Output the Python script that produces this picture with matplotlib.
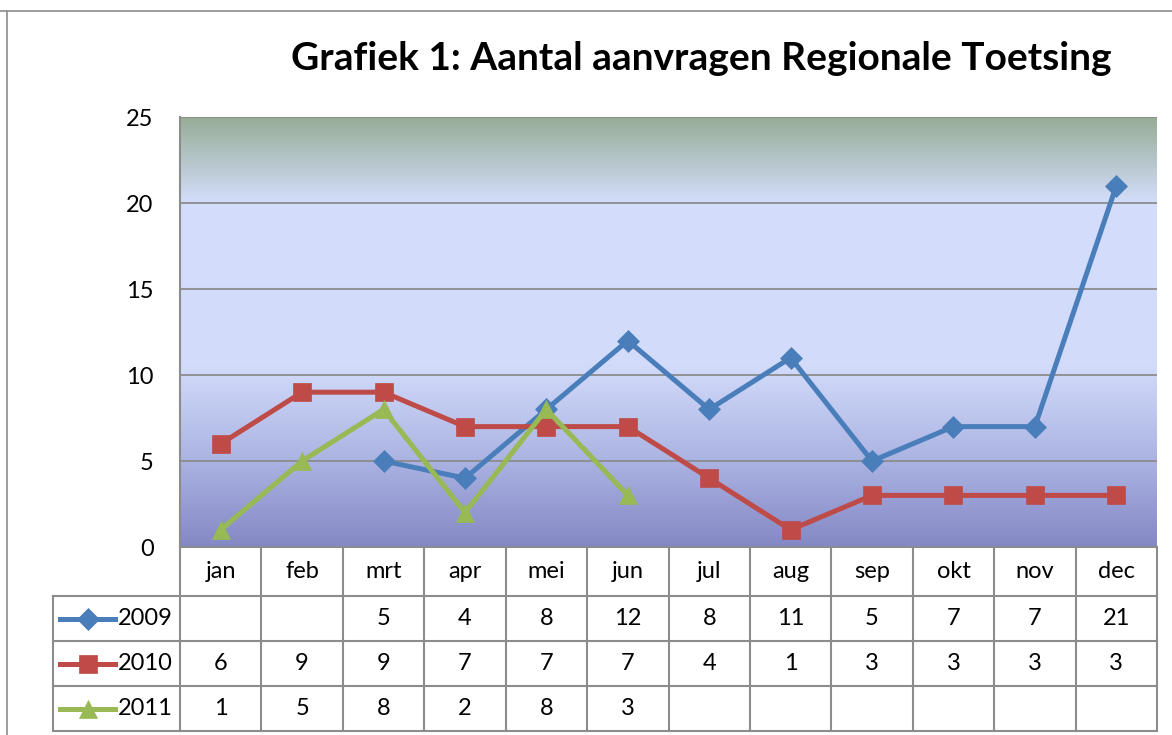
import numpy as np
import matplotlib
matplotlib.use("Agg")
import matplotlib.pyplot as plt
from matplotlib.colors import LinearSegmentedColormap
from matplotlib.lines import Line2D

plt.rcParams['font.family'] = ['Lato', 'DejaVu Sans']

months = ['jan', 'feb', 'mrt', 'apr', 'mei', 'jun', 'jul', 'aug', 'sep', 'okt', 'nov', 'dec']
years = ['2009', '2010', '2011']
v2009 = [None, None, 5, 4, 8, 12, 8, 11, 5, 7, 7, 21]
v2010 = [6, 9, 9, 7, 7, 7, 4, 1, 3, 3, 3, 3]
v2011 = [1, 5, 8, 2, 8, 3, None, None, None, None, None, None]

series = [v2009, v2010, v2011]
colors = ['#4A7EBB', '#BE4B48', '#98B954']
markers = ['D', 's', '^']
msizes = [11, 13, 13]

W, H = 1172, 735
fig = plt.figure(figsize=(W / 100, H / 100), dpi=100)

# pixel helpers for layout
def fx(px):
    return px / W

def fy(py):
    return 1 - py / H

left, right, top, bottom = 180, 1157, 117, 547
ax = fig.add_axes([fx(left), fy(bottom), fx(right) - fx(left), fy(top) - fy(bottom)])

# gradient background
cmap = LinearSegmentedColormap.from_list('bg', [
    (0.0, '#8488C5'),
    (0.2, '#ABB3E2'),
    (0.42, '#D2DBFA'),
    (0.8, '#D4DEFC'),
    (1.0, '#97AD97'),
])
grad = np.linspace(0, 1, 256).reshape(-1, 1)
ax.imshow(grad, cmap=cmap, origin='lower', aspect='auto',
          extent=(-0.5, 11.5, 0, 25), zorder=0)

x = np.arange(len(months))
for vals, c, m, ms in zip(series, colors, markers, msizes):
    y = np.array([np.nan if v is None else v for v in vals], dtype=float)
    ax.plot(x, y, color=c, lw=3.6, marker=m, markersize=ms, zorder=3,
            markeredgecolor=c, markeredgewidth=0.5)

ax.set_xlim(-0.5, 11.5)
ax.set_ylim(0, 25)
ax.set_yticks(range(0, 26, 5))
ax.set_xticks([])
ax.yaxis.grid(True, color='#8C8C8C', lw=1.3, zorder=1)
ax.set_axisbelow(True)
for s in ['right', 'bottom', 'top']:
    ax.spines[s].set_visible(False)
ax.spines['left'].set_color('#8C8C8C')
ax.spines['left'].set_linewidth(1.5)
ax.tick_params(axis='y', length=0, pad=19, labelsize=17)

fig.text(fx(701), fy(58), 'Grafiek 1: Aantal aanvragen Regionale Toetsing',
         ha='center', va='center', fontsize=28, fontweight='bold')

# data table below the plot
tleft = 53
tab = fig.add_axes([fx(tleft), fy(731), fx(right) - fx(tleft), fy(bottom) - fy(731)])
cw = (right - left) / 12.0
tab.set_xlim(tleft, right)
tab.set_ylim(731, bottom)
tab.axis('off')
gray = '#8C8C8C'
rows_y = [547, 596, 641, 686, 731]
for yy in rows_y[1:]:
    tab.plot([tleft, right], [yy, yy], color=gray, lw=1.5, clip_on=False)
tab.plot([left, right], [547, 547], color=gray, lw=1.5, clip_on=False)
tab.plot([tleft, tleft], [596, 731], color=gray, lw=1.5, clip_on=False)
for i in range(13):
    xx = left + i * cw
    tab.plot([xx, xx], [547, 731], color=gray, lw=1.5, clip_on=False)

for i, mth in enumerate(months):
    tab.text(left + (i + 0.5) * cw, (rows_y[0] + rows_y[1]) / 2, mth,
             ha='center', va='center', fontsize=17)

for r, (yr, vals, c, m, ms) in enumerate(zip(years, series, colors, markers, msizes)):
    yc = (rows_y[r + 1] + rows_y[r + 2]) / 2
    tab.plot([60, 115], [yc, yc], color=c, lw=3.6, clip_on=False)
    tab.plot([87.5], [yc], color=c, marker=m, markersize=ms, clip_on=False,
             markeredgecolor=c, markeredgewidth=0.5)
    tab.text(118, yc, yr, ha='left', va='center', fontsize=17)
    for i, v in enumerate(vals):
        if v is not None:
            tab.text(left + (i + 0.5) * cw, yc, str(v), ha='center', va='center', fontsize=17)

# outer chart frame
fig.add_artist(Line2D([fx(0), 1], [fy(11), fy(11)], color='#8C8C8C', lw=1.2))
fig.add_artist(Line2D([fx(7), fx(7)], [fy(11), 0], color='#8C8C8C', lw=1.2))

fig.savefig('out.png', dpi=100)
